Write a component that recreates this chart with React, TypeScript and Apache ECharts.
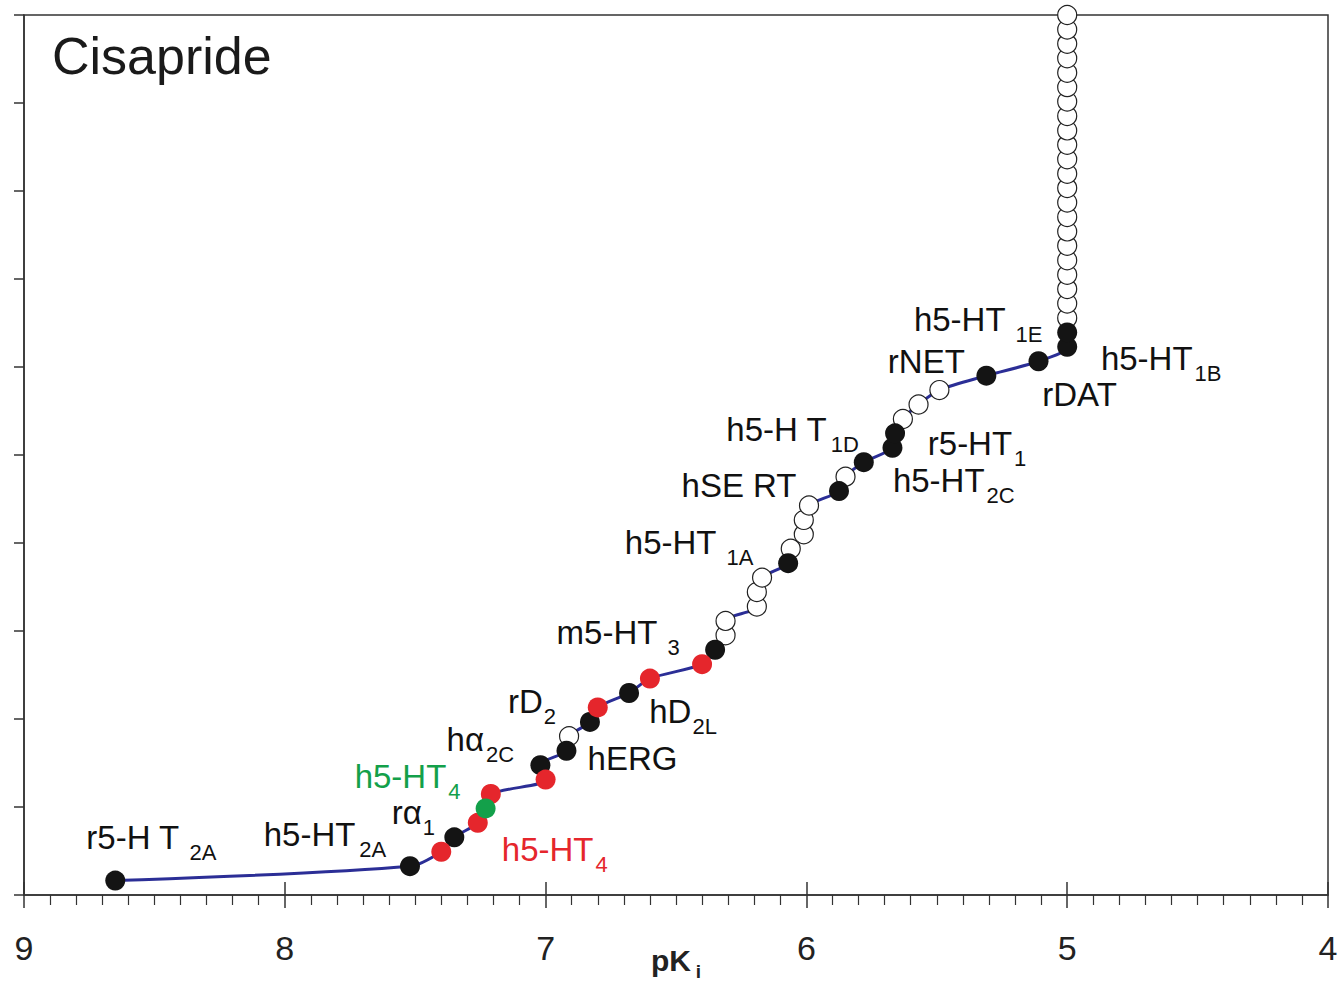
import React, { useEffect, useRef } from "react";
import * as echarts from "echarts";

// pKi values of the 61 ranked targets (rank = position + 1)
const pKi: number[] = [
  8.65, 7.52, 7.40, 7.35, 7.26, 7.23, 7.21, 7.00, 7.02, 6.92,
  6.91, 6.83, 6.80, 6.68, 6.60, 6.40, 6.35, 6.31, 6.31, 6.19,
  6.19, 6.17, 6.07, 6.06, 6.01, 6.01, 5.99, 5.875, 5.85, 5.78,
  5.67, 5.66, 5.63, 5.57, 5.49, 5.31, 5.11, 5.00, 5.00, 5.00,
  5.00, 5.00, 5.00, 5.00, 5.00, 5.00, 5.00, 5.00, 5.00, 5.00,
  5.00, 5.00, 5.00, 5.00, 5.00, 5.00, 5.00, 5.00, 5.00, 5.00,
  5.00,
];

// marker kind per point: b = filled black, o = open, r = red, g = green
const kinds: string[] = [
  "b", "b", "r", "b", "r", "g", "r", "r", "b", "b",
  "o", "b", "r", "b", "r", "r", "b", "o", "o", "o",
  "o", "o", "b", "o", "o", "o", "o", "b", "o", "b",
  "b", "b", "o", "o", "o", "b", "b", "b", "b", "o",
  "o", "o", "o", "o", "o", "o", "o", "o", "o", "o",
  "o", "o", "o", "o", "o", "o", "o", "o", "o", "o",
  "o",
];

const xTicks = [9, 8, 7, 6, 5, 4];

// labels: index of point, main text, subscript, colour kind
const labelPoint: number[] = [0, 1, 3, 5, 4, 8, 9, 11, 13, 16, 22, 27, 30, 31, 29, 35, 38, 36, 37];
const labelMain: string[] = [
  "r5-H T", "h5-HT", "rα", "h5-HT", "h5-HT", "hα", "hERG", "rD", "hD", "m5-HT",
  "h5-HT", "hSE RT", "h5-H T", "r5-HT", "h5-HT", "rNET", "h5-HT", "rDAT", "h5-HT",
];
const labelSub: string[] = [
  "2A", "2A", "1", "4", "4", "2C", "", "2", "2L", "3",
  "1A", "", "1D", "1", "2C", "", "1E", "", "1B",
];
const labelColorKind: string[] = [
  "k", "k", "k", "g", "r", "k", "k", "k", "k", "k",
  "k", "k", "k", "k", "k", "k", "k", "k", "k",
];

// layout of labels (pixel offsets from their point, subscript gap)
const labelOffset: [number, number][] = [
  [36, -43], [-85, -32], [-41, -25], [-78, -32], [77, 27], [-60, -26], [66, 8], [-58, -20], [54, 18], [-97, -17],
  [-99, -21], [-100, -6], [-100, -18], [82, 10], [90, 18], [-60, -14], [-89, -13], [41, 33], [94, 12],
];
const labelGap: number[] = [10, 4, 1, 2, 2, 2, 0, 1, 1, 10, 10, 0, 4, 2, 2, 0, 10, 0, 2];

const FONT = "'Liberation Sans', Arial, Helvetica, sans-serif";
const COLORS: Record<string, string> = {
  k: "#111111",
  r: "#e5262c",
  g: "#13a04a",
};

export default function App() {
  const ref = useRef<HTMLDivElement>(null);

  useEffect(() => {
    if (!ref.current) return;
    const chart = echarts.init(ref.current, undefined, { renderer: "svg" });

    const pts = pKi.map((x, i) => [x, i + 1]);
    const byKind = (k: string) => pts.filter((_, i) => kinds[i] === k);

    const option: any = {
      animation: false,
      backgroundColor: "#ffffff",
      grid: {
        left: 24,
        right: 10,
        top: 15,
        bottom: 88,
        outerBoundsMode: "none",
        containLabel: false,
        show: true,
        borderColor: "#333",
        borderWidth: 1.5,
        backgroundColor: "transparent",
      },
      xAxis: [
        {
          type: "value",
          min: 4,
          max: 9,
          interval: 1,
          inverse: true,
          position: "bottom",
          axisLine: { show: true, lineStyle: { color: "#333", width: 1.5 } },
          axisTick: { show: true, inside: false, length: 13, lineStyle: { color: "#333", width: 1.5 } },
          minorTick: { show: true, splitNumber: 10, length: 10, lineStyle: { color: "#333", width: 1.2 } },
          axisLabel: {
            show: true,
            fontSize: 34,
            fontFamily: FONT,
            color: "#222",
            margin: 36,
            formatter: (v: number) => (xTicks.includes(v) ? String(v) : ""),
          },
          splitLine: { show: false },
        },
        {
          type: "value",
          min: 4,
          max: 9,
          interval: 1,
          inverse: true,
          position: "bottom",
          offset: 0,
          axisLine: { show: false },
          axisTick: { show: true, inside: true, length: 13, lineStyle: { color: "#333", width: 1.5 } },
          axisLabel: { show: false },
          splitLine: { show: false },
        },
      ],
      yAxis: {
        type: "value",
        min: 0,
        max: 61,
        interval: 6.1,
        axisLine: { show: true, lineStyle: { color: "#333", width: 1.5 } },
        axisTick: { show: true, inside: false, length: 10, lineStyle: { color: "#333", width: 1.5 } },
        axisLabel: { show: false },
        splitLine: { show: false },
      },
      series: [
        {
          type: "line",
          data: pts,
          smooth: 0.3,
          symbol: "none",
          lineStyle: { color: "#2b2e96", width: 3 },
          z: 2,
          silent: true,
        },
        {
          type: "scatter",
          data: byKind("o"),
          symbolSize: 19,
          clip: false,
          itemStyle: { color: "#ffffff", borderColor: "#222", borderWidth: 1.2, opacity: 1 },
          z: 3,
          silent: true,
        },
        {
          type: "scatter",
          data: byKind("b"),
          symbolSize: 20,
          clip: false,
          itemStyle: { color: "#141414", opacity: 1 },
          z: 4,
          silent: true,
        },
        {
          type: "scatter",
          data: byKind("r"),
          symbolSize: 20,
          clip: false,
          itemStyle: { color: COLORS.r, opacity: 1 },
          z: 4,
          silent: true,
        },
        {
          type: "scatter",
          data: byKind("g"),
          symbolSize: 20,
          clip: false,
          itemStyle: { color: COLORS.g, opacity: 1 },
          z: 4,
          silent: true,
        },
      ],
    };

    chart.setOption(option);

    // labels anchored on their data points
    const labelEls = labelPoint.map((pi, j) => {
      const col = COLORS[labelColorKind[j]];
      const p = chart.convertToPixel({ xAxisIndex: 0, yAxisIndex: 0 }, pts[pi]) as number[];
      const txt = labelSub[j] ? `{m|${labelMain[j]}}{s|${labelSub[j]}}` : `{m|${labelMain[j]}}`;
      return {
        type: "text",
        x: p[0] + labelOffset[j][0],
        y: p[1] + labelOffset[j][1],
        z: 10,
        silent: true,
        style: {
          text: txt,
          align: "center",
          verticalAlign: "middle",
          fill: col,
          rich: {
            m: { fontSize: 33, fontFamily: FONT, fill: col, color: col, lineHeight: 36 },
            s: {
              fontSize: 22,
              fontFamily: FONT,
              fill: col,
              color: col,
              lineHeight: 22,
              padding: [30, 0, 0, labelGap[j]],
            },
          },
        },
      };
    });

    const xName = chart.convertToPixel({ xAxisIndex: 0 }, 6.5) as unknown as number;

    chart.setOption({
      graphic: [
        {
          type: "text",
          x: 52,
          y: 56,
          silent: true,
          style: {
            text: "Cisapride",
            fontSize: 52,
            fontFamily: FONT,
            fill: "#1a1a1a",
            align: "left",
            verticalAlign: "middle",
          },
        },
        {
          type: "text",
          x: xName,
          y: 960,
          silent: true,
          style: {
            text: "{b|pK}{i|i}",
            align: "center",
            verticalAlign: "middle",
            fill: "#222",
            rich: {
              b: { fontSize: 30, fontWeight: "bold", fontFamily: FONT, fill: "#222", lineHeight: 32 },
              i: {
                fontSize: 19,
                fontWeight: "bold",
                fontFamily: FONT,
                fill: "#222",
                lineHeight: 19,
                padding: [22, 0, 0, 5],
              },
            },
          },
        },
        ...labelEls,
      ],
    });

    return () => chart.dispose();
  }, []);

  return (
    <div
      ref={ref}
      style={{ position: "fixed", left: 0, top: 0, width: 1338, height: 983, background: "#fff" }}
    />
  );
}
